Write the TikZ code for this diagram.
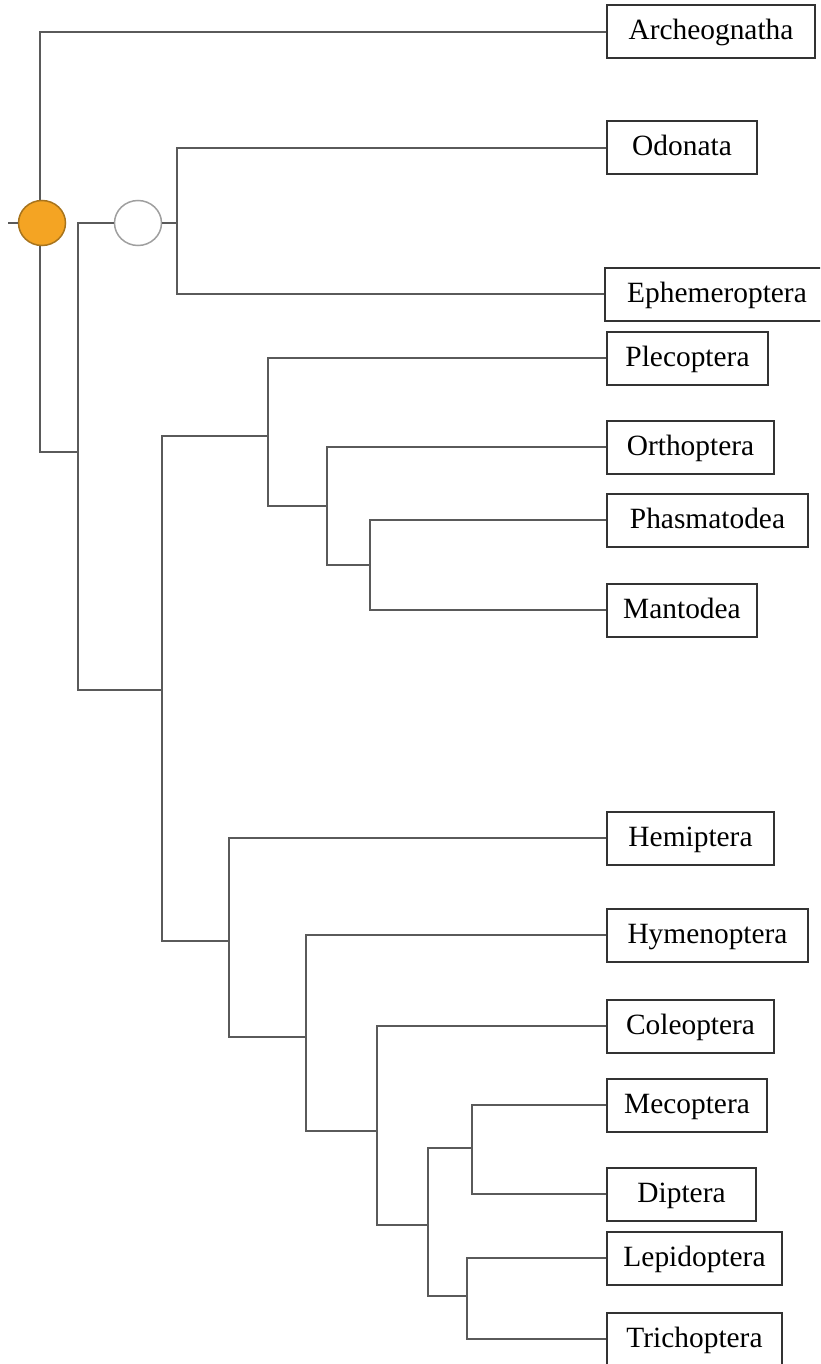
\documentclass[tikz,border=0pt]{standalone}
\usepackage{fontspec}
\usetikzlibrary{shapes.geometric}
\setmainfont{Liberation Serif}
\definecolor{branchgray}{HTML}{5A5A5A}
\definecolor{boxgray}{HTML}{333333}
\definecolor{rootfill}{HTML}{F4A423}
\definecolor{rootedge}{HTML}{A8741C}
\begin{document}
\begin{tikzpicture}[x=1pt,y=-1pt,
  branch/.style={draw=branchgray,line width=2pt},
  taxon/.style={draw=boxgray,line width=2pt,fill=white,anchor=west,
    inner sep=0pt,minimum height=53pt,text height=21pt,text depth=5pt,
    font=\fontsize{29.4}{34}\selectfont},
  cladenode/.style={ellipse,minimum width=47pt,minimum height=45pt,inner sep=0pt,line width=1.5pt}]
\clip (0,0) rectangle (820,1364);
\fill[white] (0,0) rectangle (820,1364);

% taxon boxes
\node[taxon,minimum width=208pt] (arch) at (606,32)   {Archeognatha};
\node[taxon,minimum width=150pt] (odo)  at (606,148)  {Odonata};
\node[taxon,minimum width=224pt] (eph)  at (604,294)  {Ephemeroptera};
\node[taxon,minimum width=161pt] (plec) at (606,358)  {Plecoptera};
\node[taxon,minimum width=167pt] (orth) at (606,447)  {Orthoptera};
\node[taxon,minimum width=201pt] (phas) at (606,520)  {Phasmatodea};
\node[taxon,minimum width=150pt] (mant) at (606,610)  {Mantodea};
\node[taxon,minimum width=167pt] (hemi) at (606,838)  {Hemiptera};
\node[taxon,minimum width=201pt] (hyme) at (606,935)  {Hymenoptera};
\node[taxon,minimum width=167pt] (cole) at (606,1026) {Coleoptera};
\node[taxon,minimum width=160pt] (meco) at (606,1105) {Mecoptera};
\node[taxon,minimum width=149pt] (dipt) at (606,1194) {Diptera};
\node[taxon,minimum width=175pt] (lepi) at (606,1258) {Lepidoptera};
\node[taxon,minimum width=175pt] (tric) at (606,1339) {Trichoptera};

% internal branching points
\coordinate (stub)    at (8,223);
\coordinate (rootbar) at (40,223);
\coordinate (n1)  at (78,452);
\coordinate (n3)  at (177,223);
\coordinate (n2)  at (162,690);
\coordinate (n4)  at (268,436);
\coordinate (n6)  at (327,506);
\coordinate (n7)  at (370,565);
\coordinate (n5)  at (229,941);
\coordinate (n8)  at (306,1037);
\coordinate (n9)  at (377,1131);
\coordinate (n10) at (428,1225);
\coordinate (n11) at (472,1148);
\coordinate (n12) at (467,1296);

% clade markers
\node[cladenode,fill=white,draw=gray!75] (white) at (138,223) {};

% branches
\path[branch] (arch.west) -| (rootbar) |- (n1);
\path[branch] (white.west) -| (n1) |- (n2);
\path[branch] (white.east) -- (n3);
\path[branch] (odo.west) -| (n3) |- (eph.west);
\path[branch] (n4) -| (n2) |- (n5);
\path[branch] (plec.west) -| (n4) |- (n6);
\path[branch] (orth.west) -| (n6) |- (n7);
\path[branch] (phas.west) -| (n7) |- (mant.west);
\path[branch] (hemi.west) -| (n5) |- (n8);
\path[branch] (hyme.west) -| (n8) |- (n9);
\path[branch] (cole.west) -| (n9) |- (n10);
\path[branch] (n11) -| (n10) |- (n12);
\path[branch] (meco.west) -| (n11) |- (dipt.west);
\path[branch] (lepi.west) -| (n12) |- (tric.west);

\node[cladenode,fill=rootfill,draw=rootedge] (root) at (42,223) {};
\path[branch] (stub) -- (root.west);
\end{tikzpicture}
\end{document}
